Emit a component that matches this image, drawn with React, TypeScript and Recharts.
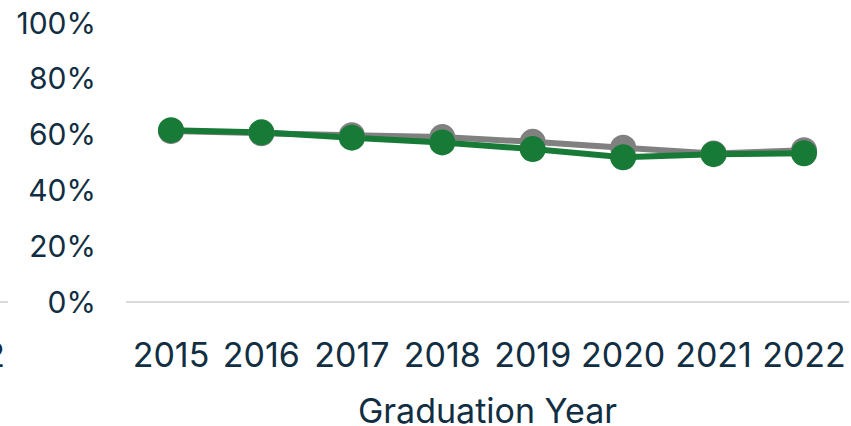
import { LineChart, Line, XAxis, YAxis } from "recharts";

// Graduation year categories
const YEARS = ["2015", "2016", "2017", "2018", "2019", "2020", "2021", "2022"];
// Comparison group (grey) and school (green), percent
const COMPARISON = [61.3, 60.5, 59.8, 59.1, 57.4, 55.3, 53.2, 54.4];
const SCHOOL = [61.6, 60.8, 58.9, 57.2, 54.8, 51.9, 53.0, 53.3];
const Y_TICKS = [0, 20, 40, 60, 80, 100];

const TEXT = "#112e42";
const GREEN = "#177a36";
const GREY = "#808080";
const FONT = "Inter, 'Noto Sans', sans-serif";

const data = YEARS.map((year, i) => ({
  year,
  comparison: COMPARISON[i],
  school: SCHOOL[i],
}));

export default function App() {
  return (
    <div style={{ position: "absolute", left: 0, top: 0, width: 851, height: 426, fontFamily: FONT, overflow: "hidden" }}>
      {/* clipped edge of the neighbouring chart */}
      <div style={{ position: "absolute", left: 0, top: 301, width: 8, height: 2, background: "#d9d9d9" }} />
      <div
        style={{
          position: "absolute",
          right: 846,
          top: 335,
          fontSize: 34,
          lineHeight: "40px",
          color: TEXT,
          whiteSpace: "nowrap",
        }}
      >
        2022
      </div>
      <LineChart width={851} height={426} data={data} margin={{ top: 23, right: 2, bottom: 0, left: 0 }}>
        <XAxis
          dataKey="year"
          height={124}
          padding={{ left: 45, right: 45 }}
          tickLine={false}
          axisLine={{ stroke: "#d9d9d9", strokeWidth: 2 }}
          tickMargin={35}
          tick={{ fontSize: 34, fill: TEXT, fontFamily: FONT }}
          interval={0}
          label={{
            value: "Graduation Year",
            position: "insideBottom",
            offset: 3,
            style: { fontSize: 34, fill: TEXT, fontFamily: FONT },
          }}
        />
        <YAxis
          width={126}
          domain={[0, 100]}
          ticks={Y_TICKS}
          tickFormatter={(v) => `${v}%`}
          axisLine={false}
          tickLine={false}
          tickMargin={24}
          tick={{ fontSize: 30, fill: TEXT, fontFamily: FONT }}
        />
        <Line
          dataKey="comparison"
          stroke={GREY}
          strokeWidth={6}
          dot={{ r: 13, fill: GREY, stroke: "none" }}
          activeDot={false}
          isAnimationActive={false}
        />
        <Line
          dataKey="school"
          stroke={GREEN}
          strokeWidth={6}
          dot={{ r: 13, fill: GREEN, stroke: "none" }}
          activeDot={false}
          isAnimationActive={false}
        />
      </LineChart>
    </div>
  );
}
